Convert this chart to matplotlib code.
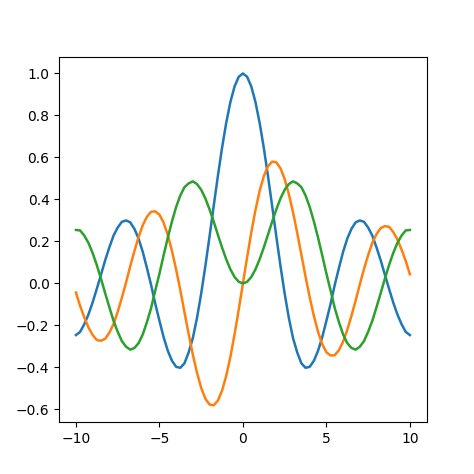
import matplotlib
matplotlib.use("Agg")
import matplotlib.pyplot as plt

# values read at x = 0, 0.25, ..., 10 (right half); left half mirrors it
x_half = [0, 0.25, 0.5, 0.75, 1, 1.25, 1.5, 1.75, 2, 2.25, 2.5, 2.75, 3, 3.25, 3.5, 3.75, 4, 4.25, 4.5, 4.75,
          5, 5.25, 5.5, 5.75, 6, 6.25, 6.5, 6.75, 7, 7.25, 7.5, 7.75, 8, 8.25, 8.5, 8.75, 9, 9.25, 9.5, 9.75, 10]

j0_half = [1.0, 0.9844, 0.9385, 0.8642, 0.7652, 0.6459, 0.5118, 0.3690, 0.2239, 0.0827, -0.0484, -0.1641,
           -0.2601, -0.3282, -0.3801, -0.4018, -0.3971, -0.3680, -0.3205, -0.2559, -0.1776, -0.0968,
           -0.0068, 0.0739, 0.1506, 0.2137, 0.2601, 0.2911, 0.3001, 0.2934, 0.2663, 0.2276, 0.1717,
           0.1103, 0.0419, -0.0253, -0.0903, -0.1474, -0.1939, -0.2306, -0.2459]

j1_half = [0.0, 0.1240, 0.2423, 0.3492, 0.4401, 0.5106, 0.5579, 0.5802, 0.5767, 0.5484, 0.4971, 0.4253,
           0.3391, 0.2411, 0.1374, 0.0321, -0.0660, -0.1550, -0.2311, -0.2899, -0.3276, -0.3432,
           -0.3414, -0.3177, -0.2767, -0.2207, -0.1538, -0.0817, -0.0047, 0.0685, 0.1352, 0.1937,
           0.2346, 0.2636, 0.2731, 0.2697, 0.2453, 0.2098, 0.1613, 0.1070, 0.0435]

j2_half = [0.0, 0.0078, 0.0306, 0.0670, 0.1149, 0.1711, 0.2321, 0.2941, 0.3528, 0.4048, 0.4461, 0.4734,
           0.4861, 0.4766, 0.4586, 0.4189, 0.3641, 0.2951, 0.2178, 0.1338, 0.0466, -0.0339, -0.1173,
           -0.1844, -0.2429, -0.2843, -0.3074, -0.3153, -0.3014, -0.2745, -0.2303, -0.1776, -0.1130,
           -0.0464, 0.0223, 0.0869, 0.1448, 0.1928, 0.2279, 0.2525, 0.2546]

x = [-v for v in x_half[:0:-1]] + x_half
j0 = j0_half[:0:-1] + j0_half
j1 = [-v for v in j1_half[:0:-1]] + j1_half
j2 = j2_half[:0:-1] + j2_half

fig, ax = plt.subplots(figsize=(4.74, 4.74), dpi=100)
for y in (j0, j1, j2):
    ax.plot(x, y, linewidth=1.8)
fig.savefig("out.png")
